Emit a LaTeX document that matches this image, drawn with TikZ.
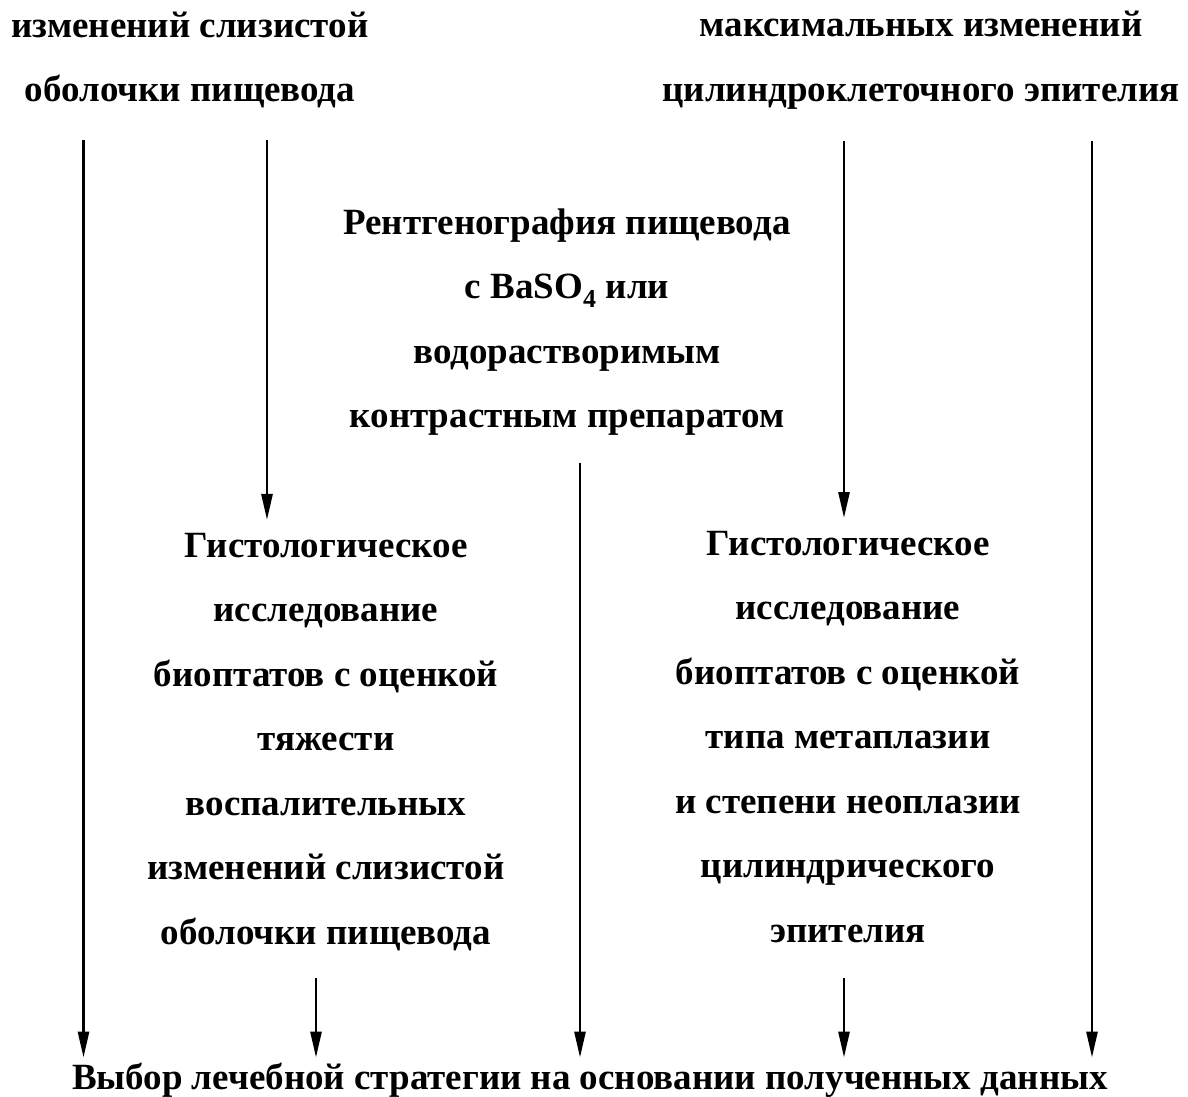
\documentclass[tikz,border=0pt]{standalone}
\usepackage{fontspec}
\setmainfont{Liberation Serif}
\usetikzlibrary{arrows.meta}

\begin{document}
\begin{tikzpicture}[x=1pt, y=-1pt,
		lbl/.style={align=center, inner sep=0pt, font=\bfseries\fontsize{37}{64.5}\selectfont},
		arr/.style={line width=2.7pt, -{Triangle[length=26pt, width=11pt]}, shorten <=30pt, shorten >=5pt}]

		\useasboundingbox (0,0) rectangle (1188,1097);

		% Column positions of the arrows
		\coordinate (cA) at (83.5, 0);
		\coordinate (cB) at (267, 0);
		\coordinate (cC) at (316, 0);
		\coordinate (cD) at (580, 0);
		\coordinate (cE) at (844, 0);
		\coordinate (cF) at (1092, 0);

		% --- Text blocks ---
		\node[lbl] (topL) at (190, 60) {изменений слизистой\\оболочки пищевода};
		\node[lbl] (topR) at (921, 60) {максимальных изменений\\цилиндроклеточного эпителия};

		\node[lbl] (xray) at (567, 322) {Рентгенография пищевода\\с BaSO\textsubscript{4} или\\водорастворимым\\контрастным препаратом};

		\node[lbl] (histL) at (326, 742) {Гистологическое\\исследование\\биоптатов с оценкой\\тяжести\\воспалительных\\изменений слизистой\\оболочки пищевода};
		\node[lbl] (histR) at (848, 737) {Гистологическое\\исследование\\биоптатов с оценкой\\типа метаплазии\\и степени неоплазии\\цилиндрического\\эпителия};

		\node[lbl] (choice) at (590, 1080) {Выбор лечебной стратегии на основании полученных данных};

		% --- Arrows ---
		\draw[arr, shorten <=32pt] (topL.south -| cA) -- (choice.north -| cA);
		\draw[arr, shorten <=32pt, shorten >=13pt] (topL.south -| cB) -- (histL.north -| cB);
		\draw[arr, shorten <=32pt, shorten >=13pt] (topR.south -| cE) -- (histR.north -| cE);
		\draw[arr, shorten <=32pt] (topR.south -| cF) -- (choice.north -| cF);
		\draw[arr, shorten <=27pt] (xray.south -| cD) -- (choice.north -| cD);
		\draw[arr, shorten <=27pt] (histL.south -| cC) -- (choice.north -| cC);
		\draw[arr, shorten <=35pt] (histR.south -| cE) -- (choice.north -| cE);

	\end{tikzpicture}
\end{document}
